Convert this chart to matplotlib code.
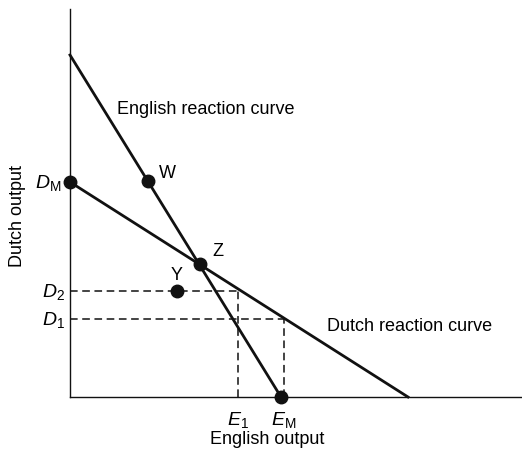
import matplotlib
matplotlib.use("Agg")
import matplotlib.pyplot as plt

plt.rcParams['font.family'] = ['Liberation Sans', 'DejaVu Sans']
plt.rcParams['mathtext.fontset'] = 'custom'
plt.rcParams['mathtext.rm'] = 'Liberation Sans'
plt.rcParams['mathtext.it'] = 'Liberation Sans:italic'

# reaction curves (English output, Dutch output)
english_curve_x = [0.0, 21.1]
english_curve_y = [34.2, 0.0]
dutch_curve_x = [0.0, 33.8]
dutch_curve_y = [21.5, 0.0]

# labelled points
point_names = ["W", "Z", "Y"]
point_x = [7.8, 13.0, 10.7]
point_y = [21.6, 13.3, 10.6]

d_m, d_2, d_1 = 21.5, 10.6, 7.8
e_1, e_m = 16.8, 21.1
d1_end = 21.4

ink = '#111111'

fig = plt.figure(figsize=(5.22, 4.52), dpi=100)
ax = fig.add_axes([70/522, 54/452, 452/522, 388/452])
ax.set_xlim(0, 45.2)
ax.set_ylim(0, 38.8)
for s in ['top', 'right']:
    ax.spines[s].set_visible(False)
for s in ['left', 'bottom']:
    ax.spines[s].set_linewidth(1.0)
    ax.spines[s].set_color(ink)
ax.set_xticks([])
ax.set_yticks([])

ax.plot(english_curve_x, english_curve_y, color=ink, lw=2.0, clip_on=False)
ax.plot(dutch_curve_x, dutch_curve_y, color=ink, lw=2.0, clip_on=False)

# dashed guides
dash = dict(color=ink, lw=1.1, ls=(0, (5, 3)))
ax.plot([0, e_1], [d_2, d_2], **dash)
ax.plot([e_1, e_1], [0, d_2], **dash)
ax.plot([0, d1_end], [d_1, d_1], **dash)
ax.plot([d1_end, d1_end], [0, d_1], **dash)

ax.plot(point_x, point_y, 'o', color=ink, ms=9, clip_on=False)
ax.plot([0, e_m], [d_m, 0], 'o', color=ink, ms=9, clip_on=False)

# point labels
for name, px, py, dx, dy in zip(point_names, point_x, point_y,
                                [1.1, 1.2, 0.0], [0.8, 1.3, 1.7]):
    ax.text(px + dx, py + dy, name, fontsize=13,
            ha='center' if dx == 0 else 'left', va='center')

ax.text(4.7, 28.8, "English reaction curve", fontsize=13, ha='left', va='center')
ax.text(25.7, 7.1, "Dutch reaction curve", fontsize=13, ha='left', va='center')

# axis value labels
ax.text(-0.9, d_m, r"$D_{\mathrm{M}}$", fontsize=14, ha='right', va='center')
ax.text(-0.5, d_2, r"$D_2$", fontsize=14, ha='right', va='center')
ax.text(-0.5, d_1, r"$D_1$", fontsize=14, ha='right', va='center')
ax.text(e_1, -1.2, r"$E_1$", fontsize=14, ha='center', va='top')
ax.text(e_m + 0.3, -1.2, r"$E_{\mathrm{M}}$", fontsize=14, ha='center', va='top')

fig.text(267/522, 1 - 440/452, "English output", fontsize=13, ha='center', va='center')
fig.text(18/522, 1 - 216/452, "Dutch output", fontsize=13, ha='center', va='center',
         rotation=90)

fig.savefig("out.png", dpi=100)
